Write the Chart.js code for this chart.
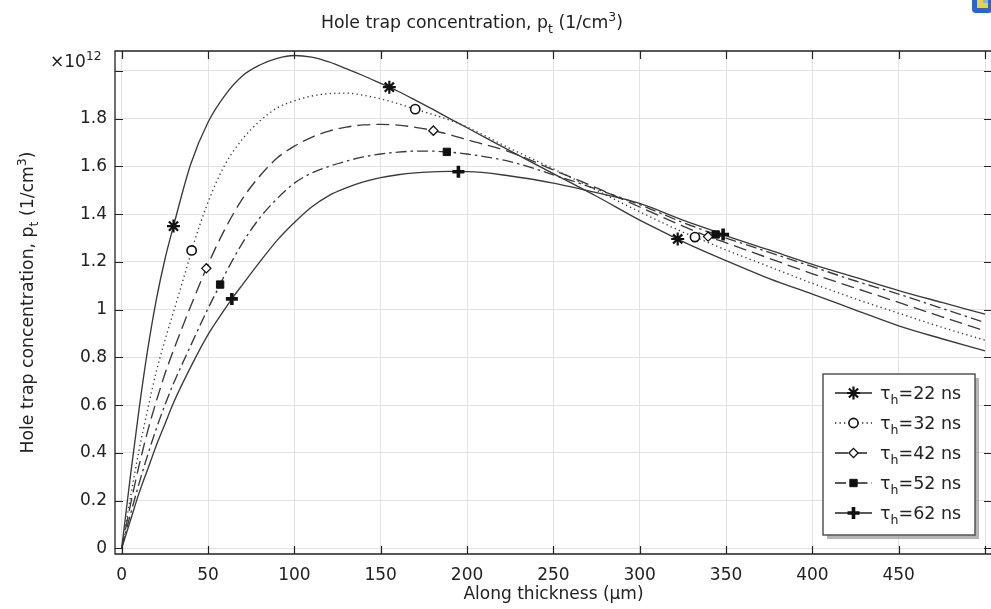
<!DOCTYPE html>
<html><head><meta charset="utf-8">
<script src="https://cdn.jsdelivr.net/npm/chart.js@4.4.1/dist/chart.umd.min.js"></script>
<style>
html,body{margin:0;padding:0;overflow:hidden;background:#fff;width:991px;height:609px}
canvas{display:block}
</style>
</head><body><canvas id="c" width="991" height="609"></canvas>
<script>
// ---- data (values in units of 1e12 1/cm^3) ----
const xs      = [0,5,10,15,20,25,30,40,50,60,70,80,90,100,110,120,130,140,150,160,170,180,190,200,225,250,275,300,325,350,375,400,425,450,475,500];
const tau22   = [0,0.30,0.58,0.83,1.04,1.21,1.35,1.61,1.785,1.90,1.98,2.025,2.053,2.065,2.058,2.038,2.01,1.98,1.948,1.915,1.878,1.840,1.80,1.762,1.665,1.57,1.475,1.375,1.285,1.205,1.13,1.065,0.998,0.932,0.878,0.827];
const tau32   = [0,0.21,0.41,0.58,0.74,0.87,0.99,1.235,1.45,1.61,1.715,1.79,1.845,1.875,1.895,1.905,1.907,1.898,1.883,1.863,1.840,1.818,1.794,1.765,1.675,1.59,1.50,1.41,1.325,1.25,1.18,1.11,1.045,0.985,0.926,0.872];
const tau42   = [0,0.18,0.345,0.49,0.615,0.73,0.83,1.015,1.19,1.34,1.465,1.56,1.635,1.685,1.722,1.748,1.765,1.774,1.776,1.773,1.764,1.751,1.733,1.712,1.66,1.585,1.51,1.43,1.35,1.28,1.215,1.15,1.09,1.03,0.97,0.911];
const tau52   = [0,0.14,0.27,0.39,0.50,0.60,0.69,0.85,1.005,1.15,1.28,1.385,1.465,1.53,1.572,1.60,1.622,1.640,1.652,1.660,1.664,1.664,1.660,1.652,1.62,1.565,1.505,1.44,1.365,1.30,1.24,1.18,1.12,1.065,1.005,0.946];
const tau62   = [0,0.115,0.23,0.33,0.43,0.52,0.61,0.76,0.895,1.005,1.105,1.20,1.29,1.365,1.43,1.478,1.51,1.535,1.553,1.565,1.573,1.577,1.579,1.578,1.56,1.53,1.49,1.445,1.375,1.31,1.25,1.19,1.135,1.08,1.03,0.981];
// marker positions (x in um, y in 1e12)
const markX22 = [30,155,322],      markY22 = [1.35,1.932,1.296];
const markX32 = [40.5,170,332],    markY32 = [1.248,1.840,1.304];
const markX42 = [49,180.5,339.6],  markY42 = [1.173,1.750,1.306];
const markX52 = [57,188.3,344],    markY52 = [1.105,1.661,1.315];
const markX62 = [63.8,195,348.3],  markY62 = [1.045,1.578,1.315];
const seriesLabels = ['22','32','42','52','62'];
const xTicks = [0,50,100,150,200,250,300,350,400,450,500];
const yTicks = [0,0.2,0.4,0.6,0.8,1,1.2,1.4,1.6,1.8,2];

function build(ys, mx, my){
  const pts = xs.map((x,i)=>({x:x, y:ys[i], m:mx.includes(x)}));
  mx.forEach((x,j)=>{ if(!xs.includes(x)) pts.push({x:x, y:my[j], m:true}); });
  pts.sort((a,b)=>a.x-b.x);
  return pts;
}

const LINE = '#3a3a3a';
const styles = [
  {dash:[],            ps:'star',    r:6.5, bw:2.2, fill:'#111'},
  {dash:[1.3,3.2],     ps:'circle',  r:4.6, bw:1.6, fill:'#fff'},
  {dash:[13,6],        ps:'rectRot', r:4.6, bw:1.3, fill:'#fff'},
  {dash:[11,4,2.5,4],  ps:'rect',    r:5.2, bw:1,   fill:'#111'},
  {dash:[],            ps:'cross',   r:6,   bw:3.6, fill:'#111'}
];
const raw = [[tau22,markX22,markY22],[tau32,markX32,markY32],[tau42,markX42,markY42],[tau52,markX52,markY52],[tau62,markX62,markY62]];

const datasets = raw.map((s,i)=>({
  label: 'τh=' + seriesLabels[i] + ' ns',
  data: build(s[0], s[1], s[2]),
  borderColor: LINE,
  borderWidth: 1.35,
  borderDash: styles[i].dash,
  cubicInterpolationMode: 'monotone',
  fill: false,
  pointStyle: styles[i].ps,
  pointRadius: c => (c.raw && c.raw.m) ? styles[i].r : 0,
  pointHoverRadius: 0,
  pointBorderWidth: styles[i].bw,
  pointBorderColor: '#111',
  pointBackgroundColor: styles[i].fill
}));

const FONT = '"DejaVu Sans", "Liberation Sans", sans-serif';
function rich(ctx, parts, x, y, align, size){
  const f = s => s + 'px ' + FONT;
  let w = 0;
  parts.forEach(p=>{ ctx.font = f(p.s ? size*0.72 : size); p.w = ctx.measureText(p.t).width; w += p.w; });
  let cx = align==='center' ? x - w/2 : (align==='right' ? x - w : x);
  ctx.textAlign = 'left'; ctx.textBaseline = 'alphabetic';
  parts.forEach(p=>{
    ctx.font = f(p.s ? size*0.72 : size);
    const dy = p.s==='sub' ? size*0.28 : (p.s==='sup' ? -size*0.42 : 0);
    ctx.fillText(p.t, cx, y + dy);
    cx += p.w;
  });
}
function marker(ctx, i, x, y){
  const st = styles[i];
  ctx.save();
  ctx.setLineDash([]);
  ctx.fillStyle = st.fill; ctx.strokeStyle = '#111'; ctx.lineWidth = st.bw;
  if (Chart.helpers && Chart.helpers.drawPoint) {
    Chart.helpers.drawPoint(ctx, {pointStyle: st.ps, radius: st.r, rotation: 0, borderWidth: st.bw}, x, y);
  }
  ctx.restore();
}

const RIGHT_FRAME = 992; // right frame of the plot lies just outside the picture
const deco = {
  id: 'deco',
  afterDraw(chart){
    const ctx = chart.ctx, a = chart.chartArea, sx = chart.scales.x, sy = chart.scales.y;
    ctx.save();
    // frame (left, top, bottom)
    ctx.setLineDash([]);
    ctx.strokeStyle = '#222'; ctx.lineWidth = 1.3;
    ctx.beginPath();
    ctx.moveTo(RIGHT_FRAME, a.top); ctx.lineTo(a.left, a.top); ctx.lineTo(a.left, a.bottom); ctx.lineTo(RIGHT_FRAME, a.bottom);
    ctx.stroke();
    // inner ticks on all sides
    ctx.beginPath();
    xTicks.forEach(v=>{ const p = Math.round(sx.getPixelForValue(v)) + 0.5;
      ctx.moveTo(p, a.bottom); ctx.lineTo(p, a.bottom - 8);
      ctx.moveTo(p, a.top); ctx.lineTo(p, a.top + 8); });
    yTicks.forEach(v=>{ const p = Math.round(sy.getPixelForValue(v)) + 0.5;
      ctx.moveTo(a.left, p); ctx.lineTo(a.left + 8, p);
      ctx.moveTo(RIGHT_FRAME, p); ctx.lineTo(RIGHT_FRAME - 8, p); });
    ctx.lineWidth = 1.2; ctx.stroke();

    ctx.fillStyle = '#222';
    // title
    rich(ctx, [{t:'Hole trap concentration, p'},{t:'t',s:'sub'},{t:' (1/cm'},{t:'3',s:'sup'},{t:')'}], 472, 28, 'center', 17.3);
    // x title
    rich(ctx, [{t:'Along thickness (µm)'}], (a.left + RIGHT_FRAME)/2, 599, 'center', 17);
    // y title
    ctx.save();
    ctx.translate(33, (a.top + a.bottom)/2);
    ctx.rotate(-Math.PI/2);
    rich(ctx, [{t:'Hole trap concentration, p'},{t:'t',s:'sub'},{t:' (1/cm'},{t:'3',s:'sup'},{t:')'}], 0, 0, 'center', 17.3);
    ctx.restore();
    // exponent
    rich(ctx, [{t:'×10'},{t:'12',s:'sup'}], 50, 67, 'left', 17);

    // legend
    const L = 823, T = 374, R = 975, B = 535;
    ctx.fillStyle = 'rgba(120,120,120,0.55)';
    ctx.fillRect(L + 4, T + 4, R - L, B - T);
    ctx.fillStyle = '#fff';
    ctx.fillRect(L, T, R - L, B - T);
    ctx.strokeStyle = '#555'; ctx.lineWidth = 1.5;
    ctx.strokeRect(L, T, R - L, B - T);
    const rows = [393, 423, 453, 483, 513];
    rows.forEach((yy, i)=>{
      ctx.save();
      ctx.strokeStyle = '#222'; ctx.lineWidth = 1.6;
      ctx.setLineDash(styles[i].dash);
      ctx.beginPath(); ctx.moveTo(835, yy); ctx.lineTo(872, yy); ctx.stroke();
      ctx.restore();
      marker(ctx, i, 853.5, yy);
      ctx.fillStyle = '#222';
      rich(ctx, [{t:'τ'},{t:'h',s:'sub'},{t:'=' + seriesLabels[i] + ' ns'}], 880, yy + 6, 'left', 17.5);
    });

    // window icon (top right)
    ctx.fillStyle = '#2d64c8';
    ctx.beginPath();
    if (ctx.roundRect) ctx.roundRect(972, -6, 20, 19, 4); else ctx.rect(972, -6, 20, 19);
    ctx.fill();
    ctx.fillStyle = '#e6d24a';
    ctx.fillRect(977, -2, 11, 10);
    ctx.fillStyle = '#7fb7e6';
    ctx.fillRect(983, -2, 5, 5);
    ctx.restore();
  }
};

new Chart(document.getElementById('c'), {
  type: 'line',
  data: { datasets: datasets },
  options: {
    responsive: false,
    animation: false,
    events: [],
    layout: { autoPadding: false, padding: { top: 51, right: 0, bottom: 0, left: 0 } },
    plugins: { legend: {display:false}, title: {display:false}, tooltip: {enabled:false} },
    scales: {
      x: {
        type: 'linear', position: 'bottom', min: -3.88, max: 503.45,
        afterBuildTicks: s => { s.ticks = xTicks.map(v=>({value:v})); },
        afterFit: s => { s.height = 55; s.paddingRight = 0; s.paddingLeft = 0; },
        grid: { color: '#e2e2e2', lineWidth: 1, drawTicks: false },
        border: { display: false },
        ticks: { font: { family: FONT, size: 17 }, color: '#222', padding: 11, maxRotation: 0, autoSkip: false,
                 callback: v => (v === 500 ? '' : String(v)) }
      },
      y: {
        type: 'linear', min: -0.024, max: 2.0837,
        afterBuildTicks: s => { s.ticks = yTicks.map(v=>({value:v})); },
        afterFit: s => { s.width = 115; s.paddingTop = 0; s.paddingBottom = 0; },
        grid: { color: '#e2e2e2', lineWidth: 1, drawTicks: false },
        border: { display: false },
        ticks: { font: { family: FONT, size: 17 }, color: '#222', padding: 8, autoSkip: false,
                 callback: v => (Math.abs(v - 2) < 1e-9) ? '' : String(Math.round(v * 10) / 10) }
      }
    }
  },
  plugins: [deco]
});
</script>
</body></html>
